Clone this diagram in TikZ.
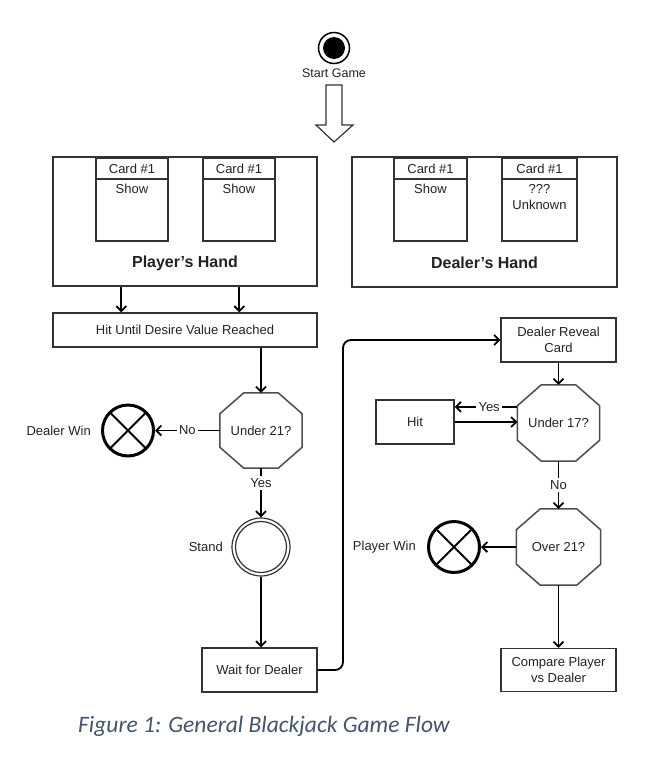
\documentclass[tikz,border=0pt]{standalone}
\usepackage{fontspec}
\setmainfont{Liberation Sans}
\newfontfamily\capfont{Carlito}
\usetikzlibrary{arrows.meta,calc}
\definecolor{boxc}{HTML}{333333}
\definecolor{octc}{HTML}{4D4D4D}
\definecolor{txt}{HTML}{222222}
\definecolor{capc}{HTML}{44546A}
\newcommand\drawocto[3]{%
  \draw[octline] ($(#1.north west)+(#2,0)$) -- ($(#1.north east)+(-#2,0)$)
    -- ($(#1.north east)+(0,#3)$) -- ($(#1.south east)+(0,-#3)$)
    -- ($(#1.south east)+(-#2,0)$) -- ($(#1.south west)+(#2,0)$)
    -- ($(#1.south west)+(0,-#3)$) -- ($(#1.north west)+(0,#3)$) -- cycle;}
\begin{document}
\begin{tikzpicture}[x=1pt,y=-1pt,
  box/.style={draw=boxc,line width=1.4pt,fill=white,inner sep=0pt,
    font=\fontsize{13}{16}\selectfont,align=center,text=txt},
  txtn/.style={inner sep=0pt,font=\fontsize{13}{16}\selectfont,align=center,text=txt},
  lbl/.style={fill=white,inner sep=2.5pt,font=\fontsize{13}{16}\selectfont,text=txt},
  octn/.style={inner sep=0pt,font=\fontsize{13}{16}\selectfont,text=txt},
  octline/.style={draw=octc,line width=1.5pt,line join=miter},
  arr/.style={draw=black,line width=1.8pt,-{Straight Barb[length=5pt,width=10pt,line width=1.8pt]}},
  winc/.style={circle,draw=black,line width=3pt,minimum size=51pt,inner sep=0pt},
]
\useasboundingbox (0,0) rectangle (670,777);

% start
\node[circle,draw=black,line width=1.5pt,minimum size=31pt,inner sep=0pt] (start) at (334,48) {};
\node[circle,fill=black,minimum size=22pt,inner sep=0pt] (startdot) at (start) {};
\node[txtn,font=\fontsize{12.5}{15}\selectfont] (startlbl) at (334,73) {Start Game};
\draw[draw=boxc,line width=1.2pt,fill=white,line join=miter]
  (326,85) -- (342,85) -- (342,125) -- (353,125) -- (334,142) -- (316,125) -- (326,125) -- cycle;

% player's hand
\node[box,minimum width=264pt,minimum height=129pt] (ph) at (185,221.5) {};
\node[box,minimum width=72pt,minimum height=83pt] (pc1) at (132,199.5) {};
\node[box,minimum width=72pt,minimum height=83pt] (pc2) at (239,199.5) {};
\draw[draw=boxc,line width=1.2pt] (pc1.west |- 0,179) -- (pc1.east |- 0,179);
\draw[draw=boxc,line width=1.2pt] (pc2.west |- 0,179) -- (pc2.east |- 0,179);
\node[txtn] (pc1t) at (132,168.5) {Card \#1};
\node[txtn] (pc1s) at (132,189) {Show};
\node[txtn] (pc2t) at (239,168.5) {Card \#1};
\node[txtn] (pc2s) at (239,189) {Show};
\node[txtn,font=\bfseries\fontsize{16}{19}\selectfont] (phl) at (185,263) {Player\symbol{39}s Hand};

% dealer's hand
\node[box,minimum width=265pt,minimum height=130pt] (dh) at (484.5,222) {};
\node[box,minimum width=73pt,minimum height=83pt] (dc1) at (430.5,199.5) {};
\node[box,minimum width=75pt,minimum height=83pt] (dc2) at (539.5,199.5) {};
\draw[draw=boxc,line width=1.2pt] (dc1.west |- 0,179) -- (dc1.east |- 0,179);
\draw[draw=boxc,line width=1.2pt] (dc2.west |- 0,179) -- (dc2.east |- 0,179);
\node[txtn] (dc1t) at (430.5,168.5) {Card \#1};
\node[txtn] (dc1s) at (430.5,189) {Show};
\node[txtn] (dc2t) at (539.5,168.5) {Card \#1};
\node[txtn] (dc2s) at (539.5,197) {???\\Unknown};
\node[txtn,font=\bfseries\fontsize{16}{19}\selectfont] (dhl) at (484.5,263) {Dealer\symbol{39}s Hand};

% hit until
\node[box,minimum width=264pt,minimum height=34pt] (hit) at (185,330) {Hit Until Desire Value Reached};
\draw[arr] ([xshift=69pt]ph.south west) -- ([xshift=69pt]hit.north west);
\draw[arr] ([xshift=187pt]ph.south west) -- ([xshift=187pt]hit.north west);

% under 21
\node[octn,minimum width=82pt,minimum height=75pt] (u21) at (261,430.5) {Under 21?};
\drawocto{u21}{24}{21}
\draw[arr] (hit.south -| u21.north) -- (u21.north);

\node[winc] (dw) at (128,430.5) {};
\draw[line width=1.8pt] ($(dw)+(-17,-17)$) -- ($(dw)+(17,17)$);
\draw[line width=1.8pt] ($(dw)+(-17,17)$) -- ($(dw)+(17,-17)$);
\node[txtn,anchor=east] (dwl) at (91,430.5) {Dealer Win};
\draw[arr] (u21.west) -- node[lbl] (no1) {No} (dw.east);

% stand
\node[circle,draw=boxc,line width=1.2pt,minimum size=58pt,inner sep=0pt] (stand) at (261,547) {};
\node[circle,draw=boxc,line width=1.2pt,minimum size=51pt,inner sep=0pt] (standin) at (stand) {};
\node[txtn,anchor=east] (standl) at (223,547) {Stand};
\draw[arr] (u21.south) -- node[lbl,pos=0.3] (yes1) {Yes} (stand.north);

% wait
\node[box,minimum width=115pt,minimum height=44pt] (wait) at (259.5,670) {Wait for Dealer};
\draw[arr] (stand.south) -- (stand.south |- wait.north);

% dealer reveal
\node[box,minimum width=115pt,minimum height=44pt] (rev) at (558.5,340) {Dealer Reveal\\Card};
\draw[arr,rounded corners=8pt] (wait.east) -- (343,670) -- (343,340) -- (rev.west);

% under 17
\node[octn,minimum width=82pt,minimum height=76pt] (u17) at (558.5,423) {Under 17?};
\drawocto{u17}{24}{21}
\draw[arr] (rev.south) -- (u17.north);
\node[box,minimum width=78pt,minimum height=44pt] (hit2) at (415,422) {Hit};
\coordinate (u17y) at ($(u17.north west)+(0,22)$);
\draw[arr] (u17y) -- node[lbl,pos=0.45] (yes2) {Yes} (u17y -| hit2.east);
\draw[arr] (hit2.east) -- (hit2.east -| u17.west);

% over 21
\node[octn,minimum width=84pt,minimum height=76pt] (o21) at (558.5,547) {Over 21?};
\drawocto{o21}{24}{21}
\draw[arr] (u17.south) -- node[lbl,pos=0.5] (no2) {No} (o21.north);

\node[winc] (pw) at (454,547) {};
\draw[line width=1.8pt] ($(pw)+(-17,-17)$) -- ($(pw)+(17,17)$);
\draw[line width=1.8pt] ($(pw)+(-17,17)$) -- ($(pw)+(17,-17)$);
\node[txtn,anchor=east] (pwl) at (416,547) {Player Win};
\draw[arr] (o21.west) -- (pw.east);

% compare
\node[box,minimum width=115pt,minimum height=43pt] (cmp) at (558.5,670) {Compare Player\\vs Dealer};
\draw[arr] (o21.south) -- (cmp.north);

% caption
\node[anchor=base west,inner sep=0pt,font=\capfont\itshape\fontsize{23.5}{28}\selectfont,text=capc] (cap) at (78,732) {Figure 1: General Blackjack Game Flow};
\end{tikzpicture}
\end{document}
